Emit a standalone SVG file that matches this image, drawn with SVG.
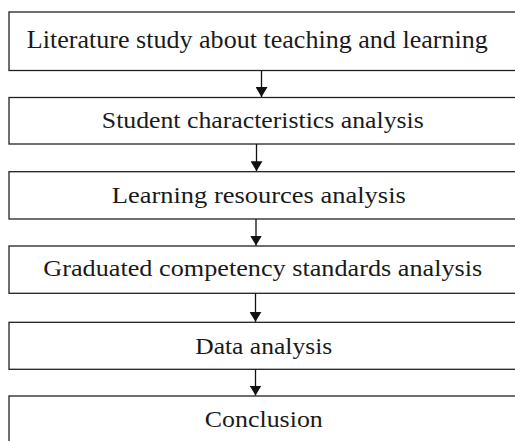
<svg xmlns="http://www.w3.org/2000/svg" width="515" height="441" viewBox="0 0 515 441">
<defs>
<style>
.box{fill:#fff;stroke:#222;stroke-width:1.3}
.t{font-family:"Liberation Serif","Times New Roman",serif;font-size:22.5px;fill:#1a1a1a;text-anchor:middle}
.c{stroke:#111;stroke-width:1.3;fill:none}
</style>
<marker id="ah" viewBox="0 0 10 12" refX="10" refY="6" markerWidth="10" markerHeight="12" markerUnits="userSpaceOnUse" orient="auto">
<path d="M0,0 L10,6 L0,12 Z" fill="#111"/>
</marker>
</defs>
<rect width="515" height="441" fill="#fff"/>
<g id="n1"><rect class="box" x="9" y="12" width="530" height="58.5"/><text class="t" x="257.3" y="48.3" style="font-size:24.5px" textLength="461" lengthAdjust="spacingAndGlyphs">Literature study about teaching and learning</text></g>
<g id="n2"><rect class="box" x="9" y="97.5" width="530" height="46.5"/><text class="t" x="262.8" y="128.3" textLength="322" lengthAdjust="spacingAndGlyphs">Student characteristics analysis</text></g>
<g id="n3"><rect class="box" x="9" y="171.7" width="530" height="47.3"/><text class="t" x="258.8" y="203.3" textLength="294" lengthAdjust="spacingAndGlyphs">Learning resources analysis</text></g>
<g id="n4"><rect class="box" x="9" y="246" width="530" height="47.3"/><text class="t" x="262.8" y="275.7" textLength="439" lengthAdjust="spacingAndGlyphs">Graduated competency standards analysis</text></g>
<g id="n5"><rect class="box" x="9" y="322.3" width="530" height="47"/><text class="t" x="263.7" y="354" textLength="137" lengthAdjust="spacingAndGlyphs">Data analysis</text></g>
<g id="n6"><rect class="box" x="9" y="396" width="530" height="60"/><text class="t" x="263.8" y="426.7" textLength="118" lengthAdjust="spacingAndGlyphs">Conclusion</text></g>
<g id="connectors">
<line class="c" x1="261.5" y1="70.5" x2="261.5" y2="97" marker-end="url(#ah)"/>
<line class="c" x1="256.5" y1="144" x2="256.5" y2="171.2" marker-end="url(#ah)"/>
<line class="c" x1="256" y1="219" x2="256" y2="245.5" marker-end="url(#ah)"/>
<line class="c" x1="255.5" y1="293.3" x2="255.5" y2="321.8" marker-end="url(#ah)"/>
<line class="c" x1="255.5" y1="369.3" x2="255.5" y2="395.5" marker-end="url(#ah)"/>
</g>
</svg>
